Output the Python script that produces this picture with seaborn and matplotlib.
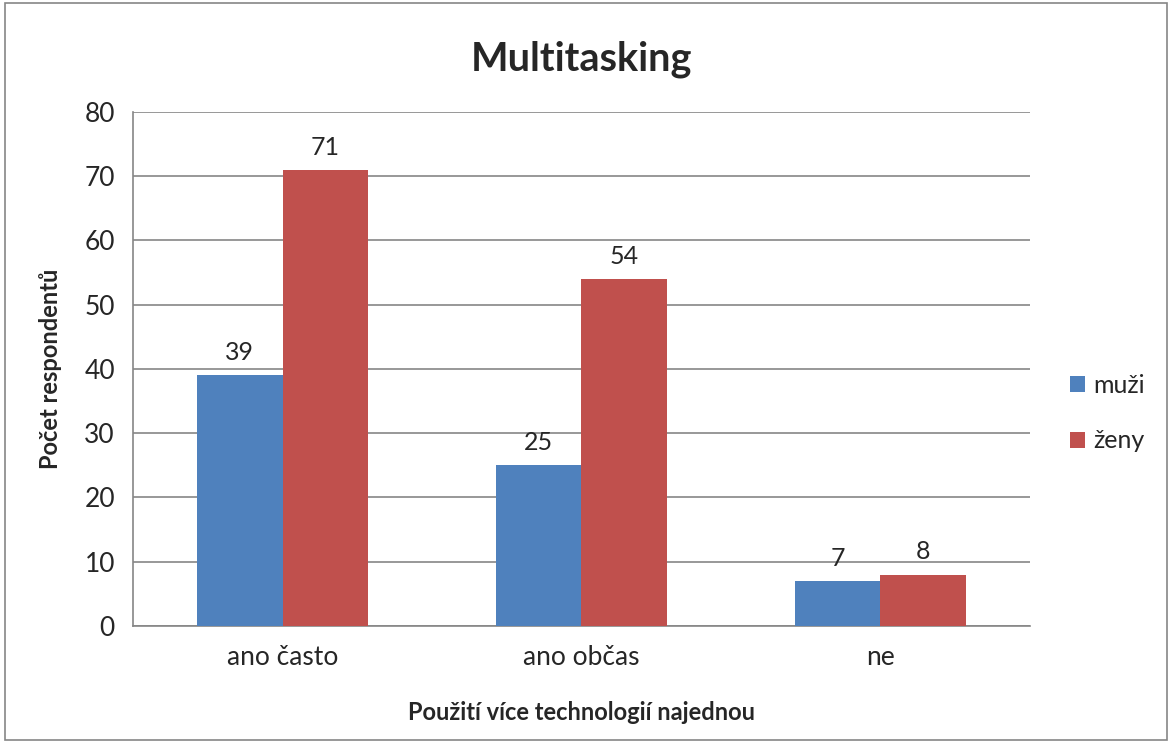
import pandas as pd
import matplotlib.pyplot as plt
import seaborn as sns
from matplotlib.patches import Rectangle

categories = ['ano často', 'ano občas', 'ne']
muzi = [39, 25, 7]
zeny = [71, 54, 8]
series = ['muži', 'ženy']
colors = ['#4f81bd', '#c0504d']

df = pd.DataFrame({
    'kategorie': categories * 2,
    'pohlavi': [series[0]] * 3 + [series[1]] * 3,
    'pocet': muzi + zeny,
})

sns.set_style('white')
plt.rcParams['font.family'] = ['Lato', 'DejaVu Sans']

fig = plt.figure(figsize=(11.72, 7.44), dpi=100)
ax = fig.add_axes([0.1135, 0.1586, 0.7653, 0.6909])

sns.barplot(data=df, x='kategorie', y='pocet', hue='pohlavi',
            palette=colors, width=0.57, saturation=1, ax=ax, zorder=3,
            linewidth=0, edgecolor='none')

for cont in ax.containers:
    ax.bar_label(cont, padding=8, fontsize=18)

ax.set_ylim(0, 80)
ax.set_xlim(-0.5, 2.5)
ax.set_yticks(range(0, 81, 10))
ax.yaxis.grid(True, color='#868686', linewidth=1.2, zorder=0)
ax.set_axisbelow(True)
for side in ['top', 'right']:
    ax.spines[side].set_visible(False)
for side in ['left', 'bottom']:
    ax.spines[side].set_color('#868686')
    ax.spines[side].set_linewidth(1.2)

ax.tick_params(axis='y', length=7, color='#868686', width=1.2, labelsize=19, pad=6)
ax.tick_params(axis='x', which='major', length=0, labelsize=19, pad=14)
ax.set_xticks([-0.5, 0.5, 1.5, 2.5], minor=True)
ax.tick_params(axis='x', which='minor', length=7, color='#868686', width=1.2)

ax.set_xlabel('Použití více technologií najednou', fontsize=17, fontweight='bold', labelpad=22)
ax.set_ylabel('Počet respondentů', fontsize=17, fontweight='bold', labelpad=16)
ax.set_title('Multitasking', fontsize=28.5, fontweight='bold', pad=30)

ax.legend(title=None, frameon=False, fontsize=18, loc='center left',
          bbox_to_anchor=(1.02, 0.414), handlelength=0.6, handleheight=0.6,
          labelspacing=1.3, handletextpad=0.3)

fig.patches.append(Rectangle((0.004, 0.006), 0.992, 0.99, transform=fig.transFigure,
                             fill=False, edgecolor='#868686', linewidth=1.2))

fig.savefig('out.png', dpi=100)
